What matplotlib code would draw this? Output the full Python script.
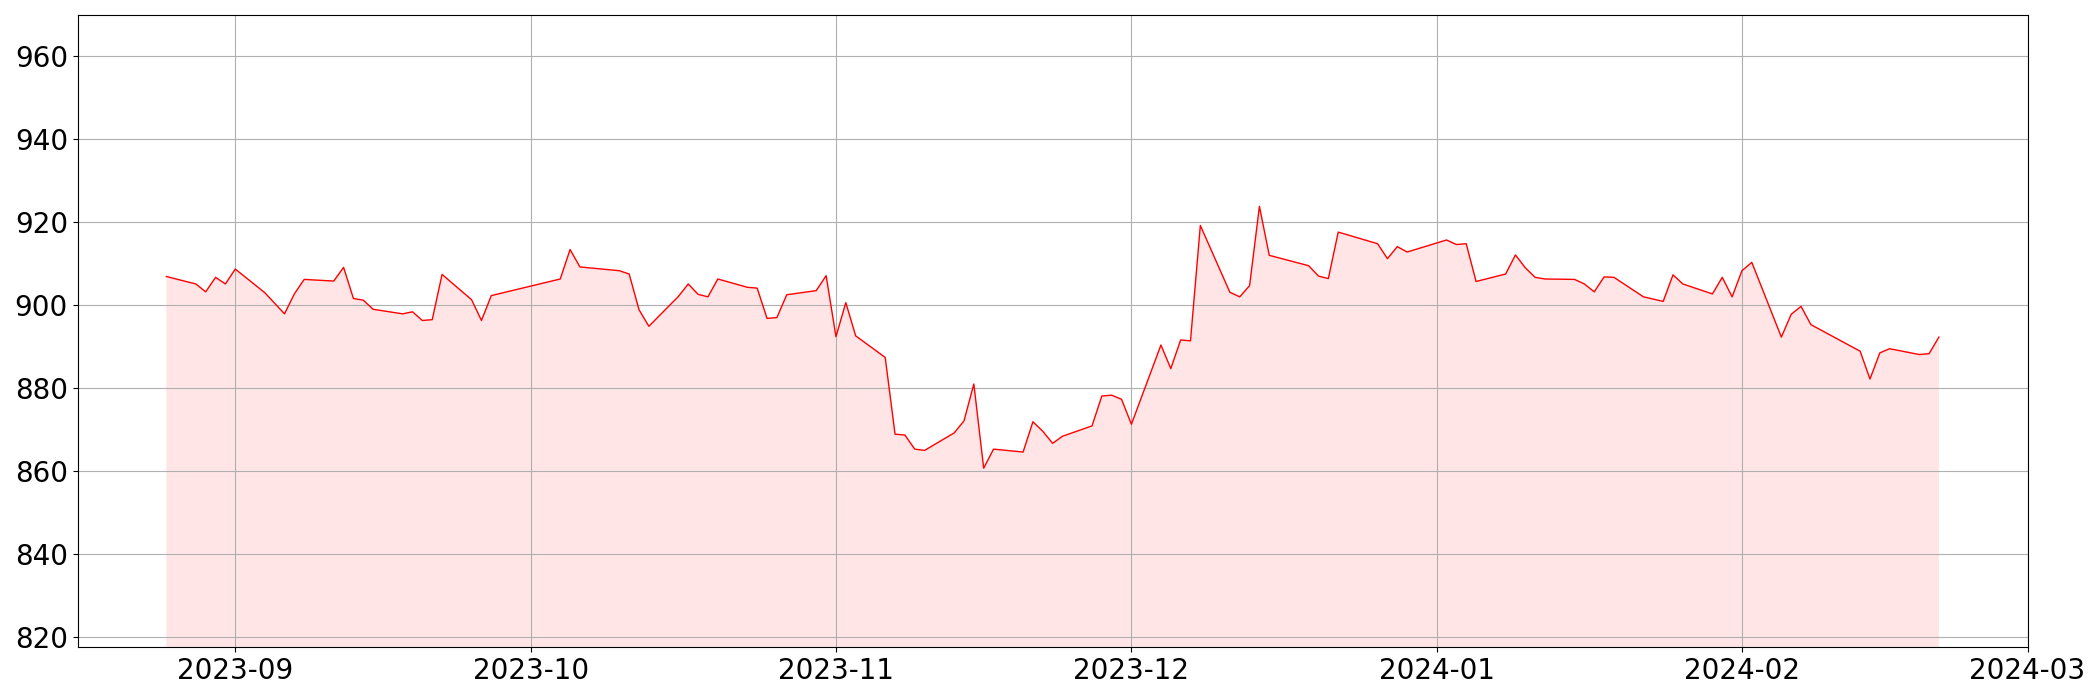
import numpy as np
import pandas as pd
import matplotlib

matplotlib.use("Agg")
import matplotlib.pyplot as plt


# fmt: off
dates = [
    "2023-08-25", "2023-08-28", "2023-08-29", "2023-08-30", "2023-08-31", "2023-09-01",
    "2023-09-04", "2023-09-06", "2023-09-07", "2023-09-08", "2023-09-11", "2023-09-12",
    "2023-09-13", "2023-09-14", "2023-09-15", "2023-09-18", "2023-09-19", "2023-09-20",
    "2023-09-21", "2023-09-22", "2023-09-25", "2023-09-26", "2023-09-27", "2023-10-04",
    "2023-10-05", "2023-10-06", "2023-10-10", "2023-10-11", "2023-10-12", "2023-10-13",
    "2023-10-16", "2023-10-17", "2023-10-18", "2023-10-19", "2023-10-20", "2023-10-23",
    "2023-10-24", "2023-10-25", "2023-10-26", "2023-10-27", "2023-10-30", "2023-10-31",
    "2023-11-01", "2023-11-02", "2023-11-03", "2023-11-06", "2023-11-07", "2023-11-08",
    "2023-11-09", "2023-11-10", "2023-11-13", "2023-11-14", "2023-11-15", "2023-11-16",
    "2023-11-17", "2023-11-20", "2023-11-21", "2023-11-22", "2023-11-23", "2023-11-24",
    "2023-11-27", "2023-11-28", "2023-11-29", "2023-11-30", "2023-12-01", "2023-12-04",
    "2023-12-05", "2023-12-06", "2023-12-07", "2023-12-08", "2023-12-11", "2023-12-12",
    "2023-12-13", "2023-12-14", "2023-12-15", "2023-12-19", "2023-12-20", "2023-12-21",
    "2023-12-22", "2023-12-26", "2023-12-27", "2023-12-28", "2023-12-29", "2024-01-02",
    "2024-01-03", "2024-01-04", "2024-01-05", "2024-01-08", "2024-01-09", "2024-01-10",
    "2024-01-11", "2024-01-12", "2024-01-15", "2024-01-16", "2024-01-17", "2024-01-18",
    "2024-01-19", "2024-01-22", "2024-01-24", "2024-01-25", "2024-01-26", "2024-01-29",
    "2024-01-30", "2024-01-31", "2024-02-01", "2024-02-02", "2024-02-05", "2024-02-06",
    "2024-02-07", "2024-02-08", "2024-02-13", "2024-02-14", "2024-02-15", "2024-02-16",
    "2024-02-19", "2024-02-20", "2024-02-21",
]
prices = [
    906.9, 905.1, 903.2, 906.7, 905.1, 908.7,
    903.0, 897.9, 902.7, 906.2, 905.8, 909.1,
    901.6, 901.2, 899.0, 897.9, 898.4, 896.3,
    896.5, 907.4, 901.3, 896.3, 902.3, 906.3,
    913.4, 909.2, 908.3, 907.5, 898.9, 894.9,
    902.1, 905.1, 902.6, 902.0, 906.3, 904.3,
    904.1, 896.8, 897.0, 902.5, 903.5, 907.1,
    892.4, 900.6, 892.6, 887.4, 868.9, 868.7,
    865.3, 865.0, 869.2, 872.1, 881.0, 860.7,
    865.3, 864.6, 871.9, 869.6, 866.7, 868.4,
    870.9, 878.1, 878.3, 877.3, 871.3, 890.4,
    884.7, 891.6, 891.4, 919.2, 903.1, 902.0,
    904.7, 923.8, 912.0, 909.5, 907.0, 906.4,
    917.6, 914.8, 911.2, 914.1, 912.8, 915.7,
    914.6, 914.8, 905.7, 907.5, 912.1, 909.0,
    906.7, 906.3, 906.2, 905.1, 903.2, 906.8,
    906.7, 902.0, 900.9, 907.3, 905.1, 902.7,
    906.7, 902.0, 908.3, 910.3, 892.3, 897.8,
    899.7, 895.3, 888.9, 882.2, 888.5, 889.5,
    888.1, 888.3, 892.3,
]
# fmt: on

x = pd.to_datetime(dates)
y = np.array(prices)

fig, ax = plt.subplots(figsize=(21, 7), dpi=100)

ax.plot(x, y, color="red", linewidth=1)
ax.fill_between(x, y, color="red", alpha=0.1, linewidth=0)
ax.set_ylim(y.min() * 0.95, y.max() * 1.05)
ax.grid(True)
ax.tick_params(labelsize=20)

fig.subplots_adjust(left=0.037, right=0.9655, top=0.979, bottom=0.076)
fig.savefig("out.png", dpi=100)
